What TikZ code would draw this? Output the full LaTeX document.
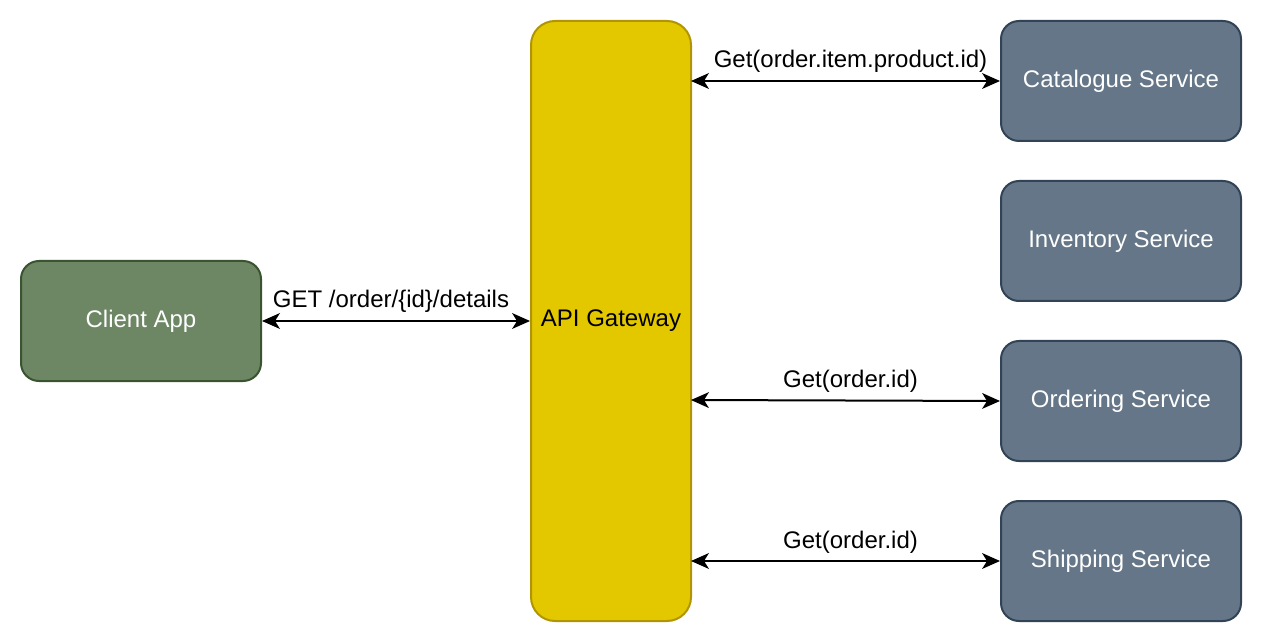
\documentclass[tikz,border=0pt]{standalone}
\usepackage{fontspec}
\setmainfont{Liberation Sans}
\usetikzlibrary{arrows.meta}
\definecolor{clientfill}{HTML}{6D8764}
\definecolor{clientline}{HTML}{3A5431}
\definecolor{gwfill}{HTML}{E3C800}
\definecolor{gwline}{HTML}{B09500}
\definecolor{svcfill}{HTML}{647687}
\definecolor{svcline}{HTML}{314354}
\tikzset{
  box/.style={rectangle, rounded corners=18pt, line width=2pt, inner sep=0pt,
    minimum width=240pt, minimum height=120pt, text=white,
    font=\fontsize{24pt}{28pt}\selectfont},
  clientbox/.style={box, fill=clientfill, draw=clientline},
  svcbox/.style={box, fill=svcfill, draw=svcline},
  gwbox/.style={box, rounded corners=24pt, fill=gwfill, draw=gwline, text=black,
    minimum width=160pt, minimum height=600pt},
  bigtip/.tip={Stealth[length=18pt,width=16pt,inset=5pt,line width=0pt]},
  link/.style={line width=2pt, bigtip-bigtip},
  lbl/.style={font=\fontsize{24pt}{28pt}\selectfont, anchor=base, inner sep=0pt}
}
\begin{document}
\begin{tikzpicture}[x=1pt,y=-1pt]
\useasboundingbox (0,0) rectangle (1264,644);
\node[clientbox] (client) at (141,321) {Client App};
\node[gwbox] (gw) at (611,321) {API Gateway};
\node[svcbox] (cat) at (1121,81) {Catalogue Service};
\node[svcbox] (inv) at (1121,241) {Inventory Service};
\node[svcbox] (ord) at (1121,401) {Ordering Service};
\node[svcbox] (ship) at (1121,561) {Shipping Service};
\coordinate (gcat) at (691,81);
\coordinate (gord) at (691,400);
\coordinate (gship) at (691,561);
\draw[link] (client.east) -- node[lbl, yshift=13pt, xshift=-5pt] {GET /order/\{id\}/details} (gw.west);
\draw[link] (gcat) -- node[lbl, yshift=13pt, xshift=5pt] {Get(order.item.product.id)} (cat.west);
\draw[link] (gord) -- node[lbl, yshift=13.5pt, xshift=5pt] {Get(order.id)} (ord.west);
\draw[link] (gship) -- node[lbl, yshift=13pt, xshift=5pt] {Get(order.id)} (ship.west);
\end{tikzpicture}
\end{document}
